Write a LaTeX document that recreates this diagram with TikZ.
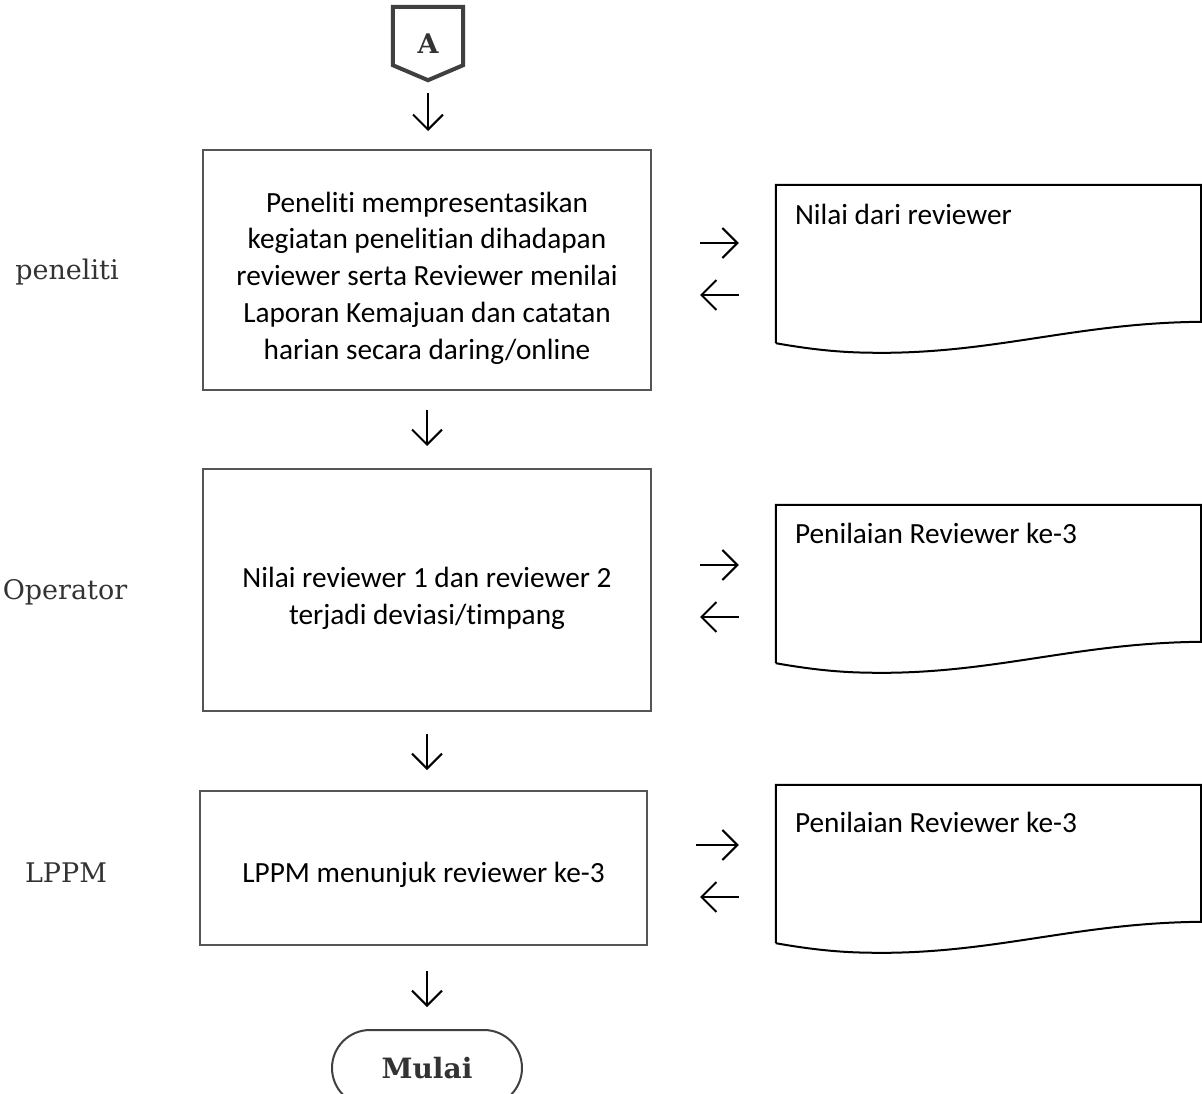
\documentclass[tikz,border=0pt]{standalone}
\usepackage{fontspec}
\setmainfont{Carlito}[Ligatures=NoCommon]
\newfontfamily\lblfont{DejaVu Serif}
\usetikzlibrary{arrows.meta,calc,shapes.misc}
\definecolor{boxgray}{HTML}{555555}
\definecolor{lblgray}{HTML}{333333}
\definecolor{conngray}{HTML}{404040}
\newcommand\mydocshape[1]{%
  \draw[docline] (#1.south west) -- (#1.north west) -- (#1.north east)
    -- ([shift={(0,137)}]#1.north east)
    .. controls ([shift={(-121,138)}]#1.north east) and ([shift={(-201,167)}]#1.north east)
    .. ([shift={(111,168)}]#1.north west)
    .. controls ([shift={(84,168)}]#1.north west) and ([shift={(54,168)}]#1.north west)
    .. (#1.south west);}
\begin{document}
\begin{tikzpicture}[x=1pt,y=-1pt,
  procbox/.style={draw=boxgray, line width=2pt, inner sep=0pt},
  boxtext/.style={align=center, inner sep=0pt, font=\fontsize{29.3}{36.8}\selectfont},
  docbox/.style={draw=none, minimum width=425pt, minimum height=158pt, inner sep=0pt},
  docline/.style={draw=black, line width=2pt},
  doctext/.style={anchor=west, inner sep=0pt, font=\fontsize{29.3}{36.8}\selectfont},
  lane/.style={text=lblgray, inner sep=0pt, font=\lblfont\fontsize{27}{32}\selectfont},
  arr/.style={draw=black, line width=2pt, -{Straight Barb[length=15pt,width=30pt]}},
  offpage/.style={draw=none, minimum width=70pt, minimum height=73pt, inner sep=0pt,
    text=lblgray, font=\lblfont\bfseries\fontsize{27}{32}\selectfont},
  term/.style={draw=conngray, line width=2pt, rounded rectangle, minimum width=190pt,
    minimum height=76pt, inner sep=0pt, text=lblgray, font=\lblfont\bfseries\fontsize{28}{32}\selectfont}]
\useasboundingbox (0,0) rectangle (1202,1094);
\clip (0,0) rectangle (1202,1094);

% off-page connector
\node[offpage] (A) at (428,43.5) {A};
\draw[draw=conngray, line width=4pt]
  (A.north west) -- (A.north east) -- ([shift={(0,-15)}]A.south east)
  -- (A.south) -- ([shift={(0,-15)}]A.south west) -- cycle;

% process boxes
\node[procbox, minimum width=448pt, minimum height=240pt] (b1) at (427,270) {};
\node[boxtext] (b1t) at ([yshift=-8pt]b1.center) {Peneliti mempresentasikan\\kegiatan penelitian dihadapan\\reviewer serta Reviewer menilai\\Laporan Kemajuan dan catatan\\harian secara daring/online};
\node[procbox, minimum width=448pt, minimum height=242pt] (b2) at (427,590) {};
\node[boxtext] (b2t) at ([yshift=-8pt]b2.center) {Nilai reviewer 1 dan reviewer 2\\terjadi deviasi/timpang};
\node[procbox, minimum width=447pt, minimum height=154pt] (b3) at (423.5,868) {};
\node[boxtext] (b3t) at ([yshift=-7pt]b3.center) {LPPM menunjuk reviewer ke-3};

% terminator
\node[term] (T) at (427,1068) {Mulai};

% lane labels
\node[lane] (l1) at (67,272) {peneliti};
\node[lane] (l2) at (65,592) {Operator};
\node[lane] (l3) at (66,873) {LPPM};

% documents
\node[docbox] (d1) at (988.5,264) {};
\mydocshape{d1}
\node[doctext] (d1t) at ([shift={(19,30)}]d1.north west) {Nilai dari reviewer};
\node[docbox] (d2) at (988.5,584) {};
\mydocshape{d2}
\node[doctext] (d2t) at ([shift={(19,29)}]d2.north west) {Penilaian Reviewer ke-3};
\node[docbox] (d3) at (988.5,864) {};
\mydocshape{d3}
\node[doctext] (d3t) at ([shift={(19,38)}]d3.north west) {Penilaian Reviewer ke-3};

% vertical arrows
\draw[arr, shorten <=13pt, shorten >=18pt] (A.south) -- (A.south |- b1.north);
\draw[arr, shorten <=19pt, shorten >=22pt] (b1.south) -- (b1.south |- b2.north);
\draw[arr, shorten <=22pt, shorten >=20pt] (b2.south) -- (b2.south |- b3.north);
\draw[arr, shorten <=25pt, shorten >=22pt] (b2.south |- b3.south) -- (b2.south |- T.north);

% horizontal arrows
\coordinate (r1) at ([yshift=27pt]b1.east);
\coordinate (q1) at ([yshift=-25pt]b1.east);
\draw[arr, shorten <=48pt, shorten >=37pt] (r1) -- (r1 -| d1.west);
\draw[arr, shorten <=37pt, shorten >=48pt] (q1 -| d1.west) -- (q1);
\coordinate (r2) at ([yshift=25pt]b2.east);
\coordinate (q2) at ([yshift=-27pt]b2.east);
\draw[arr, shorten <=48pt, shorten >=37pt] (r2) -- (r2 -| d2.west);
\draw[arr, shorten <=37pt, shorten >=48pt] (q2 -| d2.west) -- (q2);
\coordinate (r3) at ([yshift=23pt]b3.east);
\coordinate (q3) at ([yshift=-29pt]b3.east);
\draw[arr, shorten <=44pt, shorten >=37pt] (r3 -| b2.east) -- (r3 -| d3.west);
\draw[arr, shorten <=37pt, shorten >=48pt] (q3 -| d3.west) -- (q3 -| b2.east);
\end{tikzpicture}
\end{document}
